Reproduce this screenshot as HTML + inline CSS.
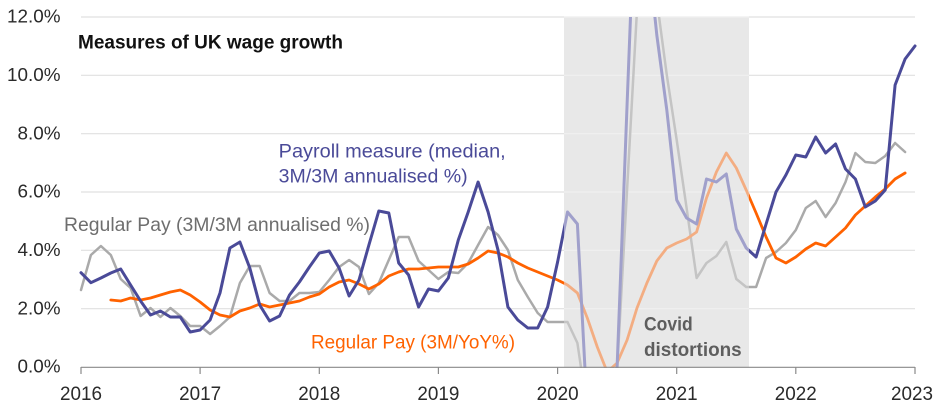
<!DOCTYPE html>
<html>
<head>
<meta charset="utf-8">
<style>
  html, body { margin: 0; padding: 0; background: #ffffff; }
  body { width: 943px; height: 411px; overflow: hidden; }
  svg { display: block; font-family: "Liberation Sans", "DejaVu Sans", sans-serif; }
</style>
</head>
<body>
<svg width="943" height="411" viewBox="0 0 943 411" xmlns="http://www.w3.org/2000/svg">
  <defs>
    <clipPath id="outside">
      <rect x="0" y="17" width="564" height="351"/>
      <rect x="749" y="17" width="194" height="351"/>
    </clipPath>
    <clipPath id="inside">
      <rect x="564" y="17" width="185" height="351"/>
    </clipPath>
  </defs>

  <rect x="0" y="0" width="943" height="411" fill="#ffffff"/>

  <!-- covid shade -->
  <rect x="564" y="17" width="185" height="350" fill="#e8e8e8"/>

  <!-- gridlines -->
  <g stroke="#e0e0e0" stroke-width="1.2">
    <line x1="81" y1="17" x2="915" y2="17"/>
    <line x1="81" y1="75.3" x2="915" y2="75.3"/>
    <line x1="81" y1="133.7" x2="915" y2="133.7"/>
    <line x1="81" y1="192" x2="915" y2="192"/>
    <line x1="81" y1="250.3" x2="915" y2="250.3"/>
    <line x1="81" y1="308.7" x2="915" y2="308.7"/>
  </g>
  <g stroke="#f1f1f1" stroke-width="1.2">
    <line x1="564" y1="17" x2="749" y2="17"/>
    <line x1="564" y1="75.3" x2="749" y2="75.3"/>
    <line x1="564" y1="133.7" x2="749" y2="133.7"/>
    <line x1="564" y1="192" x2="749" y2="192"/>
    <line x1="564" y1="250.3" x2="749" y2="250.3"/>
    <line x1="564" y1="308.7" x2="749" y2="308.7"/>
  </g>

  <!-- Series: full colour outside shade -->
  <g clip-path="url(#outside)" fill="none" stroke-linejoin="round" stroke-linecap="round">
    <polyline stroke="#aaaaaa" stroke-width="2.5" points="81,290 90.9,255 100.9,246 110.8,255 120.7,279 130.6,288 140.6,316 150.5,308 160.4,317 170.4,308 180.3,316 190.2,326 200.1,326 210.1,334 220,326 229.9,317 239.9,283 249.8,266 259.7,266 269.6,293 279.6,301 289.5,301 299.4,293 309.4,293 319.3,292 329.2,280 339.1,267 349.1,260 359,267 368.9,294 378.8,283 388.8,260 398.7,237 408.6,237 418.6,261 428.5,270 438.4,279 448.3,272 458.3,273 468.2,263 478.1,245 488.1,227 498,235 507.9,250 517.8,280 527.8,297 537.7,313 547.6,322 557.6,322 567.5,322 577.4,343 587.3,410 597.3,420 607.2,420 617.1,370 627.1,189 637,10 646.9,-40 656.8,0 666.8,75 676.7,140 686.6,208 696.6,278 706.5,263 716.4,256 726.3,242 736.3,279 746.2,287 756.1,287 766.1,258 776,252 785.9,243 795.8,230 805.8,208 815.7,201 825.6,217 835.6,203 845.5,182 855.4,153 865.3,162 875.3,163 885.2,156 895.1,143 905.1,152"/>
    <polyline stroke="#ff6200" stroke-width="2.8" points="110.8,300 120.7,301 130.6,298 140.6,300 150.5,298 160.4,295 170.4,292 180.3,290 190.2,295 200.1,302 210.1,310 220,315 229.9,317 239.9,311 249.8,308 259.7,304 269.6,307 279.6,305 289.5,303 299.4,301 309.4,297 319.3,294 329.2,287 339.1,282 349.1,280 359,284 368.9,289 378.8,284 388.8,276 398.7,272 408.6,269 418.6,269 428.5,268 438.4,267 448.3,267 458.3,267 468.2,264 478.1,258 488.1,251 498,253 507.9,257 517.8,263 527.8,268 537.7,272 547.6,276 557.6,280 567.5,285 577.4,293 587.3,318 597.3,347 607.2,372 617.1,363 627.1,340 637,308 646.9,283 656.8,261 666.8,248 676.7,243 686.6,239 696.6,232 706.5,198 716.4,172 726.3,153 736.3,168 746.2,190 756.1,213 766.1,237 776,258 785.9,263 795.8,257 805.8,249 815.7,243 825.6,246 835.6,237 845.5,228 855.4,215 865.3,206 875.3,197 885.2,189 895.1,179 905.1,173"/>
    <polyline stroke="#4a4a98" stroke-width="3" points="81,272.7 90.9,282.7 100.9,278 110.8,273 120.7,269 130.6,285 140.6,301 150.5,315 160.4,311 170.4,317 180.3,317 190.2,332 200.1,330 210.1,320 220,293 229.9,248 239.9,242 249.8,268 259.7,305 269.6,321 279.6,316 289.5,295 299.4,282 309.4,267 319.3,253 329.2,251 339.1,268 349.1,296 359,280 368.9,245 378.8,211 388.8,213 398.7,263 408.6,275 418.6,307 428.5,289 438.4,291 448.3,278 458.3,240 468.2,212 478.1,182 488.1,212 498,250 507.9,307 517.8,320 527.8,328 537.7,328 547.6,307 557.6,262 567.5,212 577.4,224 587.3,413 597.3,420 607.2,420 617.1,367 627.1,104 637,-150 646.9,-60 656.8,35 666.8,110 676.7,200 686.6,218 696.6,224 706.5,179 716.4,182 726.3,174 736.3,229 746.2,248 756.1,257 766.1,224 776,192 785.9,175 795.8,155 805.8,157 815.7,137 825.6,153 835.6,144 845.5,169 855.4,179 865.3,207 875.3,201 885.2,190 895.1,85 905.1,59 915,46"/>
  </g>

  <!-- Series: faded inside shade -->
  <g clip-path="url(#inside)" fill="none" stroke-linejoin="round" stroke-linecap="round">
    <polyline stroke="#c4c4c4" stroke-width="2.5" points="557.6,322 567.5,322 577.4,343 587.3,410 597.3,420 607.2,420 617.1,370 627.1,189 637,10 646.9,-40 656.8,0 666.8,75 676.7,140 686.6,208 696.6,278 706.5,263 716.4,256 726.3,242 736.3,279 746.2,287 756.1,287"/>
    <polyline stroke="#f3ad82" stroke-width="2.8" points="557.6,280 567.5,285 577.4,293 587.3,318 597.3,347 607.2,372 617.1,363 627.1,340 637,308 646.9,283 656.8,261 666.8,248 676.7,243 686.6,239 696.6,232 706.5,198 716.4,172 726.3,153 736.3,168 746.2,190 756.1,213"/>
    <polyline stroke="#a0a0cb" stroke-width="3" points="557.6,262 567.5,212 577.4,224 587.3,413 597.3,420 607.2,420 617.1,367 627.1,104 637,-150 646.9,-60 656.8,35 666.8,110 676.7,200 686.6,218 696.6,224 706.5,179 716.4,182 726.3,174 736.3,229 746.2,248 756.1,257"/>
  </g>

  <!-- x axis -->
  <line x1="81" y1="367.3" x2="915" y2="367.3" stroke="#8a8a8a" stroke-width="1.2"/>
  <g stroke="#8a8a8a" stroke-width="1.2">
    <line x1="81" y1="367" x2="81" y2="374"/>
    <line x1="200.1" y1="367" x2="200.1" y2="374"/>
    <line x1="319.3" y1="367" x2="319.3" y2="374"/>
    <line x1="438.4" y1="367" x2="438.4" y2="374"/>
    <line x1="557.6" y1="367" x2="557.6" y2="374"/>
    <line x1="676.7" y1="367" x2="676.7" y2="374"/>
    <line x1="795.8" y1="367" x2="795.8" y2="374"/>
    <line x1="915" y1="367" x2="915" y2="374"/>
  </g>

  <!-- y labels -->
  <g fill="#2a2a2a" font-size="18" text-anchor="end">
    <text x="60.5" y="22.7" textLength="53.5" lengthAdjust="spacingAndGlyphs">12.0%</text>
    <text x="60.5" y="81" textLength="53.5" lengthAdjust="spacingAndGlyphs">10.0%</text>
    <text x="60.5" y="139.4" textLength="43" lengthAdjust="spacingAndGlyphs">8.0%</text>
    <text x="60.5" y="197.7" textLength="43" lengthAdjust="spacingAndGlyphs">6.0%</text>
    <text x="60.5" y="256" textLength="43" lengthAdjust="spacingAndGlyphs">4.0%</text>
    <text x="60.5" y="314.4" textLength="43" lengthAdjust="spacingAndGlyphs">2.0%</text>
    <text x="60.5" y="372.7" textLength="43" lengthAdjust="spacingAndGlyphs">0.0%</text>
  </g>

  <!-- x labels -->
  <g fill="#2a2a2a" font-size="19" text-anchor="middle">
    <text x="81" y="400" textLength="42" lengthAdjust="spacingAndGlyphs">2016</text>
    <text x="200.1" y="400" textLength="42" lengthAdjust="spacingAndGlyphs">2017</text>
    <text x="319.3" y="400" textLength="42" lengthAdjust="spacingAndGlyphs">2018</text>
    <text x="438.4" y="400" textLength="42" lengthAdjust="spacingAndGlyphs">2019</text>
    <text x="557.6" y="400" textLength="42" lengthAdjust="spacingAndGlyphs">2020</text>
    <text x="676.7" y="400" textLength="42" lengthAdjust="spacingAndGlyphs">2021</text>
    <text x="795.8" y="400" textLength="42" lengthAdjust="spacingAndGlyphs">2022</text>
    <text x="912" y="400" textLength="42" lengthAdjust="spacingAndGlyphs">2023</text>
  </g>

  <!-- title -->
  <text x="78" y="48.3" font-size="19" font-weight="bold" fill="#111111" textLength="265" lengthAdjust="spacingAndGlyphs">Measures of UK wage growth</text>

  <!-- series labels -->
  <text x="278.7" y="157.3" font-size="19" fill="#4a4a98" textLength="227" lengthAdjust="spacingAndGlyphs">Payroll measure (median,</text>
  <text x="278.7" y="182.3" font-size="19" fill="#4a4a98" textLength="189" lengthAdjust="spacingAndGlyphs">3M/3M annualised %)</text>
  <text x="64" y="231" font-size="19.5" fill="#6e6e6e" textLength="306" lengthAdjust="spacingAndGlyphs">Regular Pay (3M/3M annualised %)</text>
  <text x="311" y="348.3" font-size="19.5" fill="#ff6200" textLength="204" lengthAdjust="spacingAndGlyphs">Regular Pay (3M/YoY%)</text>

  <!-- covid label -->
  <text x="644" y="330.7" font-size="19" font-weight="bold" fill="#5e5e5e" textLength="48.7" lengthAdjust="spacingAndGlyphs">Covid</text>
  <text x="644" y="356" font-size="19" font-weight="bold" fill="#5e5e5e" textLength="97.7" lengthAdjust="spacingAndGlyphs">distortions</text>
</svg>
</body>
</html>
